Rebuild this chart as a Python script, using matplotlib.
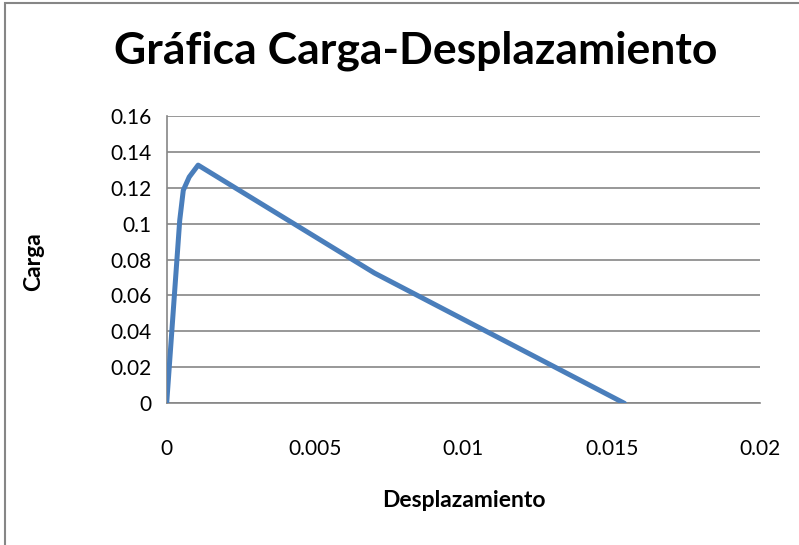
"""Load-displacement curve for the test specimen."""

import matplotlib
matplotlib.use("Agg")
import matplotlib.pyplot as plt
from matplotlib.patches import Rectangle

# Measured points (displacement, load)
desplazamiento = [0.0, 0.00044, 0.00056, 0.00076, 0.00106, 0.0070, 0.01543]
carga = [0.0, 0.1018, 0.1185, 0.1259, 0.1325, 0.0725, 0.0]

x_ticks = [0, 0.005, 0.01, 0.015, 0.02]
x_labels = ["0", "0.005", "0.01", "0.015", "0.02"]
y_ticks = [0, 0.02, 0.04, 0.06, 0.08, 0.1, 0.12, 0.14, 0.16]
y_labels = ["0", "0.02", "0.04", "0.06", "0.08", "0.1", "0.12", "0.14", "0.16"]

GRID = "#868686"
LINE = "#4A7EBB"

plt.rcParams["font.family"] = ["Lato", "DejaVu Sans"]

fig = plt.figure(figsize=(7.99, 5.45), dpi=100)
ax = fig.add_axes([0.2086, 0.26, 0.7426, 0.5277])

ax.plot(desplazamiento, carga, color=LINE, lw=3.6,
        solid_capstyle="round", solid_joinstyle="round", zorder=3)

ax.set_xlim(0, 0.02)
ax.set_ylim(0, 0.16)
ax.set_xticks(x_ticks, x_labels)
ax.set_yticks(y_ticks, y_labels)
ax.tick_params(axis="both", length=0, labelsize=15, colors="black")
ax.tick_params(axis="x", pad=26)
ax.tick_params(axis="y", pad=11)
ax.grid(axis="y", color=GRID, lw=1.2, zorder=1)
for side in ("top", "right"):
    ax.spines[side].set_visible(False)
for side in ("left", "bottom"):
    ax.spines[side].set_color(GRID)
    ax.spines[side].set_linewidth(1.2)

fig.text(0.52, 0.906, "Gráfica Carga-Desplazamiento", ha="center", va="center",
         fontsize=32, fontweight="bold")
fig.text(0.58, 0.082, "Desplazamiento", ha="center", va="center",
         fontsize=16.5, fontweight="bold")
fig.text(0.042, 0.52, "Carga", ha="center", va="center", rotation=90,
         fontsize=16.5, fontweight="bold")

# chart frame
fig.patches.append(Rectangle((0.0065, -0.1), 1.2, 1.094, transform=fig.transFigure,
                             fill=False, edgecolor=GRID, lw=1.5))

fig.savefig("out.png", dpi=100)
